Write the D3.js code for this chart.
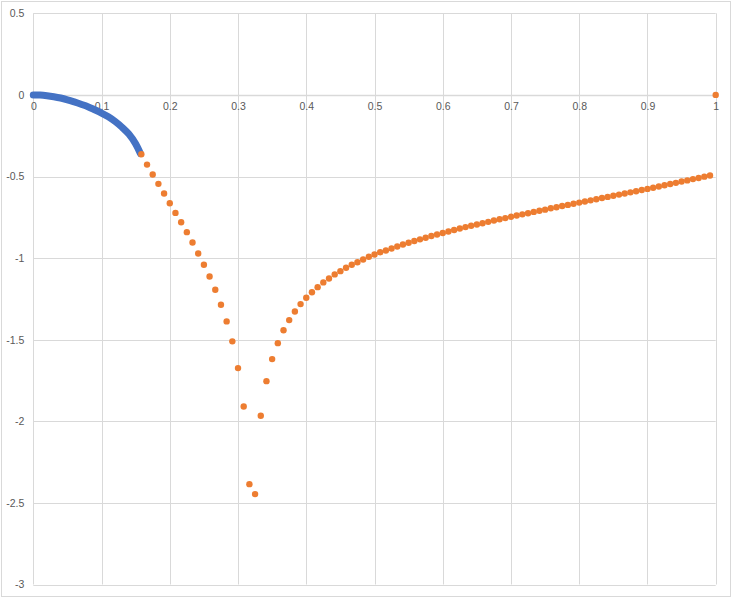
<!DOCTYPE html>
<html>
<head>
<meta charset="utf-8">
<script src="https://cdn.jsdelivr.net/npm/d3@7"></script>
<style>
  html, body { margin: 0; padding: 0; background: #fff; }
  svg { display: block; }
</style>
</head>
<body>
<svg id="chart" width="733" height="599"></svg>
<script>
// ---- data ----
const xTicks = [0, 0.1, 0.2, 0.3, 0.4, 0.5, 0.6, 0.7, 0.8, 0.9, 1];
const xTickLabels = ["0", "0.1", "0.2", "0.3", "0.4", "0.5", "0.6", "0.7", "0.8", "0.9", "1"];
const yTicks = [0.5, 0, -0.5, -1, -1.5, -2, -2.5, -3];
const yTickLabels = ["0.5", "0", "-0.5", "-1", "-1.5", "-2", "-2.5", "-3"];

// blue series (dense, drawn as thick curve)
const blueX = [0, 0.01, 0.02, 0.03, 0.04, 0.05, 0.06, 0.07, 0.08, 0.09, 0.10, 0.11, 0.12, 0.13, 0.14, 0.15, 0.157];
const blueY = [0, -0.001, -0.005, -0.011, -0.019, -0.030, -0.043, -0.057, -0.072, -0.091, -0.111, -0.134, -0.163, -0.198, -0.240, -0.300, -0.360];

// orange series: x = k/120 for k = 19..119, then (1, 0)
const orangeK = d3.range(19, 120);
const orangeY = [
  -0.364, -0.427, -0.488, -0.545, -0.604, -0.664, -0.723, -0.780, -0.841, -0.904,
  -0.972, -1.041, -1.113, -1.194, -1.286, -1.388, -1.510, -1.674, -1.909, -2.385,
  -2.446, -1.966, -1.754, -1.619, -1.521, -1.442, -1.380, -1.327, -1.282, -1.243,
  -1.209, -1.178, -1.149, -1.125, -1.100, -1.080, -1.059, -1.041, -1.025, -1.009,
  -0.992, -0.978, -0.964, -0.953, -0.941, -0.929, -0.917, -0.906, -0.895, -0.885,
  -0.875, -0.865, -0.855, -0.846, -0.837, -0.828, -0.819, -0.810, -0.802, -0.794,
  -0.786, -0.778, -0.770, -0.762, -0.755, -0.747, -0.739, -0.732, -0.725, -0.717,
  -0.710, -0.703, -0.695, -0.688, -0.681, -0.674, -0.667, -0.660, -0.653, -0.646,
  -0.639, -0.632, -0.625, -0.618, -0.611, -0.604, -0.597, -0.590, -0.583, -0.576,
  -0.569, -0.561, -0.554, -0.546, -0.539, -0.531, -0.524, -0.516, -0.509, -0.501,
  -0.494
];
const orangeExtraX = [1];
const orangeExtraY = [0];

// ---- build ----
const svg = d3.select("#chart");
const W = 733, H = 599;
const plot = { left: 33.3, right: 715.7, top: 13.3, bottom: 584.5 };

const x = d3.scaleLinear().domain([0, 1]).range([plot.left, plot.right]);
const y = d3.scaleLinear().domain([-3, 0.5]).range([plot.bottom, plot.top]);

// outer border
svg.append("rect")
  .attr("x", 1.5).attr("y", 1.5).attr("width", W - 4).attr("height", H - 4)
  .attr("fill", "#fff").attr("stroke", "#d9d9d9").attr("stroke-width", 1);

// gridlines
const grid = svg.append("g");
grid.selectAll("line.v").data(xTicks).join("line")
  .attr("x1", d => Math.round(x(d)) + 0.5).attr("x2", d => Math.round(x(d)) + 0.5)
  .attr("y1", plot.top).attr("y2", plot.bottom)
  .attr("stroke", "#d9d9d9").attr("stroke-width", 1);
grid.selectAll("line.h").data(yTicks).join("line")
  .attr("x1", plot.left).attr("x2", plot.right)
  .attr("y1", d => Math.round(y(d)) + 0.5).attr("y2", d => Math.round(y(d)) + 0.5)
  .attr("stroke", "#d9d9d9").attr("stroke-width", d => d === 0 ? 1.5 : 1);

// y axis labels
const yAxis = d3.axisLeft(y).tickValues(yTicks)
  .tickFormat((d, i) => yTickLabels[i]).tickSize(0).tickPadding(9);
const gy = svg.append("g").attr("transform", `translate(${plot.left},0)`).call(yAxis);
gy.select(".domain").remove();
gy.selectAll("text").attr("fill", "#595959")
  .style("font-family", "'Liberation Sans', Arial, sans-serif").style("font-size", "10.5px");

// x axis labels (axis crosses at y=0)
const xAxis = d3.axisBottom(x).tickValues(xTicks)
  .tickFormat((d, i) => xTickLabels[i]).tickSize(0).tickPadding(8);
const gx = svg.append("g").attr("transform", `translate(0,${y(0)})`).call(xAxis);
gx.select(".domain").remove();
gx.selectAll("text").attr("fill", "#595959")
  .style("font-family", "'Liberation Sans', Arial, sans-serif").style("font-size", "10.5px");

// blue series
const blueData = blueX.map((d, i) => [d, blueY[i]]);
svg.append("path")
  .datum(blueData)
  .attr("d", d3.line().x(d => x(d[0])).y(d => y(d[1])).curve(d3.curveCatmullRom))
  .attr("fill", "none").attr("stroke", "#4472C4").attr("stroke-width", 7)
  .attr("stroke-linecap", "round").attr("stroke-linejoin", "round");

// orange series
const orangeData = orangeK.map((k, i) => [k / 120, orangeY[i]])
  .concat(orangeExtraX.map((d, i) => [d, orangeExtraY[i]]));
svg.append("g").selectAll("circle").data(orangeData).join("circle")
  .attr("cx", d => x(d[0])).attr("cy", d => y(d[1])).attr("r", 3.2)
  .attr("fill", "#ED7D31");
</script>
</body>
</html>
